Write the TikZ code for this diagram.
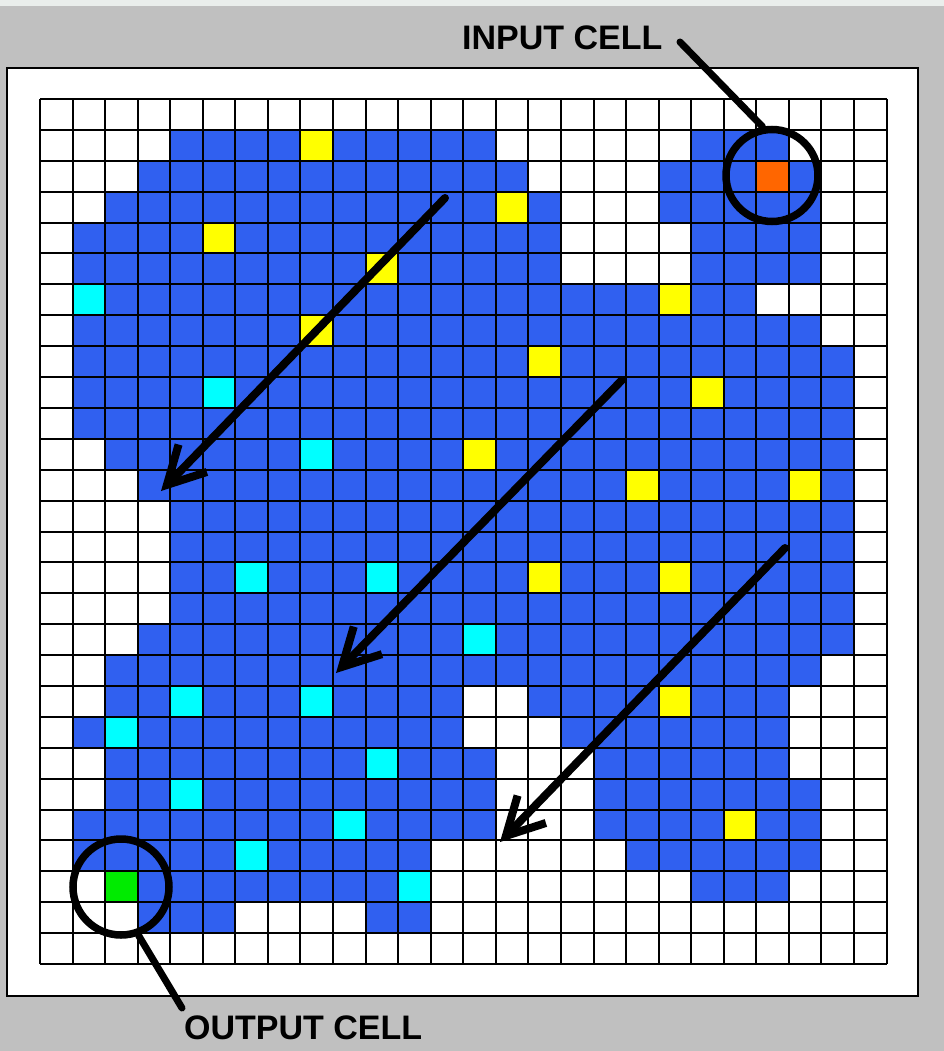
\documentclass[tikz,border=0pt]{standalone}
\usepackage{fontspec}
\setmainfont{Liberation Sans}
\usetikzlibrary{arrows.meta}
\definecolor{bggray}{RGB}{192,192,192}
\definecolor{topstrip}{RGB}{234,238,236}
\definecolor{cellblue}{RGB}{48,96,240}
\definecolor{cellyellow}{RGB}{255,255,0}
\definecolor{cellcyan}{RGB}{0,255,255}
\definecolor{cellgreen}{RGB}{0,235,0}
\definecolor{cellorange}{RGB}{255,102,0}
\newcommand\cellrun[4]{\fill[#1] ({40+#2*\cw},{99+#4*\ch}) rectangle ({40+(#3+1)*\cw},{99+(#4+1)*\ch});}
\begin{document}
\begin{tikzpicture}[x=1pt,y=-1pt,
  lab/.style={font=\fontsize{34}{37}\selectfont\bfseries, inner sep=0pt, text=black},
  ring/.style={circle, draw=black, line width=7.5pt, minimum size=92pt, inner sep=0pt},
  lead/.style={line width=7pt, line cap=round},
  flow/.style={line width=8pt, line cap=round, -{Straight Barb[angle=56:42pt]}},
  gridline/.style={line width=2pt, black}
  ]
\pgfmathsetmacro{\cw}{846.6/26}
\pgfmathsetmacro{\ch}{865/28}
\useasboundingbox (0,0) rectangle (944,1051);
\fill[bggray] (0,0) rectangle (944,1051);
\fill[topstrip] (0,0) rectangle (944,6);
\draw[fill=white, line width=2.2pt] (7,68) rectangle (918,996);
% blue runs: row/first col/last col
\foreach \r/\a/\b in {1/4/13,1/20/22,2/3/14,2/19/23,3/2/15,3/19/23,4/1/15,4/20/23,5/1/15,5/20/23,
  6/1/21,7/1/23,8/1/24,9/1/24,10/1/24,11/2/24,12/3/24,13/4/24,14/4/24,15/4/24,16/4/24,17/3/24,18/2/23,
  19/2/12,19/15/22,20/1/12,20/16/22,21/2/13,21/17/22,22/2/13,22/17/23,23/1/13,23/17/23,
  24/1/11,24/18/23,25/3/11,25/20/22,26/3/5,26/10/11}
  {\cellrun{cellblue}{\a}{\b}{\r}}
% yellow cells: row/col
\foreach \r/\c in {1/8,4/5,5/10,7/8,3/14,6/19,8/15,9/20,11/13,12/18,12/23,15/15,15/19,19/19,23/21}
  {\cellrun{cellyellow}{\c}{\c}{\r}}
% cyan cells
\foreach \r/\c in {6/1,9/5,11/8,15/6,15/10,17/13,19/4,19/8,20/2,21/10,22/4,23/9,24/6,25/11}
  {\cellrun{cellcyan}{\c}{\c}{\r}}
\cellrun{cellgreen}{2}{2}{25}
\cellrun{cellorange}{22}{22}{2}
% grid
\foreach \i in {0,...,26}
  {\draw[gridline] ({40+\i*\cw},99) -- ({40+\i*\cw},964);}
\foreach \j in {0,...,28}
  {\draw[gridline] (40,{99+\j*\ch}) -- (886.6,{99+\j*\ch});}
% rings
\node[ring] (incirc) at (772,175.5) {};
\node[ring, minimum size=96pt] (outcirc) at (121,887) {};
% labels
\node[lab, anchor=base west] (inlab) at (462,50) {INPUT CELL};
\node[lab, anchor=base west] (outlab) at (184,1039) {OUTPUT CELL};
\coordinate (inend) at (680,42);
\coordinate (outend) at (182,1008);
\draw[lead] (inend) -- (incirc.101);
\draw[lead] (outcirc.290) -- (outend);
% flow arrows
\coordinate (a1s) at (445,198);
\coordinate (a1e) at (161,491);
\coordinate (a2s) at (622,380);
\coordinate (a2e) at (336,673);
\coordinate (a3s) at (785,548);
\coordinate (a3e) at (500,842);
\draw[flow] (a1s) -- (a1e);
\draw[flow] (a2s) -- (a2e);
\draw[flow] (a3s) -- (a3e);
\end{tikzpicture}
\end{document}
